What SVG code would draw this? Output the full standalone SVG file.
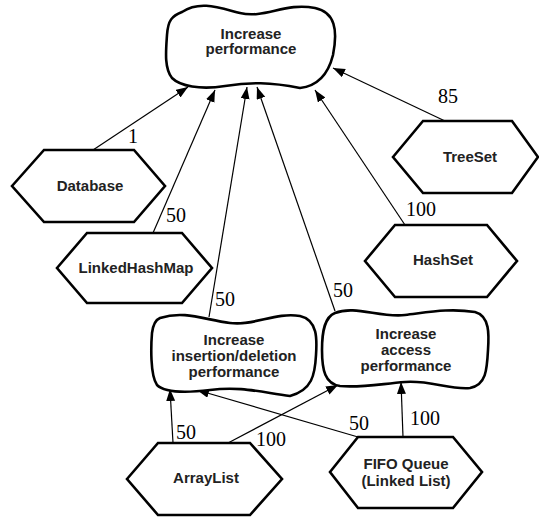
<svg xmlns="http://www.w3.org/2000/svg" width="539" height="517" viewBox="0 0 539 517">
<defs>
<marker id="ah" markerUnits="userSpaceOnUse" markerWidth="14" markerHeight="12" refX="12" refY="4.5" orient="auto">
<path d="M0,0 L12,4.5 L0,9 Z" fill="#000"/>
</marker>
<style>
.hex{fill:#fff;stroke:#000;stroke-width:2.6;stroke-linejoin:miter}
.cloud{fill:#fff;stroke:#000;stroke-width:2.6}
.t{font-family:'Liberation Sans',Arial,sans-serif;font-weight:bold;font-size:15px;text-anchor:middle;fill:#222}
.c{stroke:#000;stroke-width:1.2;fill:none;marker-end:url(#ah)}
</style>
</defs>
<rect width="539" height="517" fill="#fff"/>
<g id="connectors">
<line class="c" x1="93" y1="150" x2="188" y2="87"/>
<line class="c" x1="153" y1="233" x2="215" y2="90"/>
<line class="c" x1="209" y1="317" x2="247" y2="87"/>
<line class="c" x1="335" y1="311" x2="257" y2="87"/>
<line class="c" x1="405" y1="225" x2="315" y2="90"/>
<line class="c" x1="445" y1="121" x2="333" y2="68"/>
<line class="c" x1="173" y1="443" x2="170" y2="389"/>
<line class="c" x1="228" y1="443" x2="338" y2="385"/>
<line class="c" x1="358" y1="437" x2="197" y2="390"/>
<line class="c" x1="403" y1="437" x2="401" y2="382"/>
<g font-family="Liberation Serif, DejaVu Serif, serif" font-size="20" fill="#000">
<text x="128" y="143">1</text>
<text x="166" y="222">50</text>
<text x="215" y="306">50</text>
<text x="333" y="297">50</text>
<text x="406" y="216">100</text>
<text x="438" y="103">85</text>
<text x="176" y="439">50</text>
<text x="256" y="446">100</text>
<text x="349" y="430">50</text>
<text x="410" y="425">100</text>
</g>
</g>
<g id="increase-performance">
<path class="cloud" d="M182,12 C200,0 220,8 240,13 C265,19 285,2 315,8 C335,12 338,30 333,55 C328,75 318,86 300,88 C270,82 250,82 225,86 C200,90 180,86 172,78 C164,68 166,50 167,35 C168,20 172,16 182,12 Z"/>
<text class="t" x="251" y="38.5">Increase</text>
<text class="t" x="251" y="54">performance</text>
</g>
<g id="database">
<polygon class="hex" points="12,186 44,150 134,150 165,186 134,222 44,222"/>
<text class="t" x="90" y="191">Database</text>
</g>
<g id="linkedhashmap">
<polygon class="hex" points="57,268 87,233 182,233 212,268 182,303 87,303"/>
<text class="t" x="136" y="273">LinkedHashMap</text>
</g>
<g id="treeset">
<polygon class="hex" points="393,157 423,121 512,121 538,157 512,193 423,193"/>
<text class="t" x="470" y="162">TreeSet</text>
</g>
<g id="hashset">
<polygon class="hex" points="365,261 395,225 487,225 517,261 487,297 395,297"/>
<text class="t" x="443" y="265">HashSet</text>
</g>
<g id="increase-insertion">
<path class="cloud" d="M160,318 C185,310 205,320 230,323 C255,326 275,312 300,316 C318,320 317,340 316,355 C315,375 312,390 290,396 C260,392 240,386 210,390 C185,393 165,393 157,385 C150,375 151,345 152,333 C153,325 155,320 160,318 Z"/>
<text class="t" x="234" y="345">Increase</text>
<text class="t" x="234" y="361">insertion/deletion</text>
<text class="t" x="234" y="377">performance</text>
</g>
<g id="increase-access">
<path class="cloud" d="M335,313 C355,305 380,318 405,315 C430,312 450,308 475,312 C490,316 489,335 488,350 C487,370 486,385 470,388 C450,390 430,380 405,382 C380,384 360,388 340,386 C325,384 322,370 322,350 C322,330 325,317 335,313 Z"/>
<text class="t" x="406" y="339">Increase</text>
<text class="t" x="406" y="355">access</text>
<text class="t" x="406" y="371">performance</text>
</g>
<g id="arraylist">
<polygon class="hex" points="127,479 158,443 250,443 282,479 250,515 158,515"/>
<text class="t" x="206" y="483">ArrayList</text>
</g>
<g id="fifo-queue">
<polygon class="hex" points="330,472 358,437 453,437 482,472 453,508 358,508"/>
<text class="t" x="406" y="469">FIFO Queue</text>
<text class="t" x="406" y="486">(Linked List)</text>
</g>
</svg>
